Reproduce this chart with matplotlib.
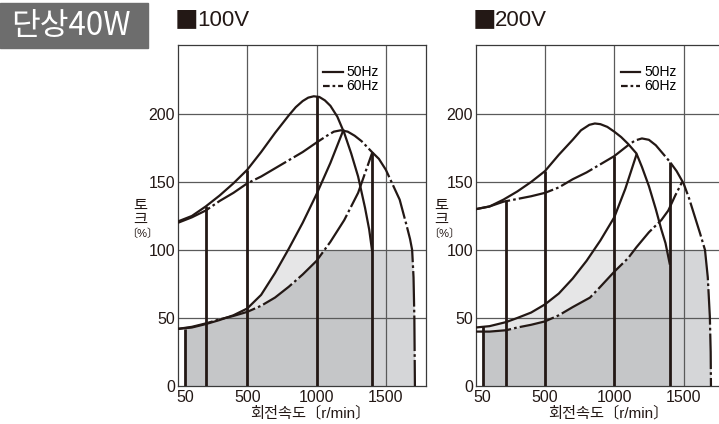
import matplotlib
matplotlib.use('Agg')
import matplotlib.pyplot as plt
from matplotlib.patches import Rectangle
from matplotlib.lines import Line2D

plt.rcParams['font.family'] = ['Liberation Sans', 'Noto Sans CJK KR']

# ---- 100V (speed r/min, torque %) ----
v100_max50_x = [0, 100, 200, 300, 400, 500, 600, 700, 800, 850, 900, 940, 980, 1020, 1060, 1100, 1150, 1200,
                1250, 1300, 1350, 1380, 1400]
v100_max50_y = [121, 125, 132, 140, 149, 159, 172, 186, 199, 205, 209.5, 212, 213, 212.5, 210, 206, 198, 186,
                171, 154, 131, 115, 100]
v100_max60_x = [0, 100, 200, 300, 400, 500, 600, 700, 800, 900, 1000, 1075, 1125, 1175, 1225, 1275, 1325, 1400,
                1450, 1500, 1550, 1600, 1650, 1675, 1690, 1700, 1706, 1710]
v100_max60_y = [120, 124, 129, 136, 142, 149, 154, 160, 166, 172, 179, 184, 187, 188, 187, 184, 180, 172,
                167, 159, 148, 137, 118, 108, 100, 80, 50, 0]
v100_low50_x = [0, 100, 200, 300, 400, 500, 600, 700, 800, 900, 1000, 1100, 1193]
v100_low50_y = [42, 43, 45.5, 48.5, 52, 57, 67, 83, 101, 120, 141, 164, 188]
v100_low60_x = [0, 100, 200, 300, 400, 500, 600, 700, 800, 900, 1000, 1100, 1200, 1300, 1400]
v100_low60_y = [42, 43.5, 46, 49, 51.5, 54.5, 59, 65, 73, 82, 92, 106, 122, 142, 171]
v100_set_x = [50, 200, 500, 1000, 1400]
v100_set_top = [42, 132, 159, 213, 172]

# ---- 200V ----
v200_max50_x = [0, 100, 200, 300, 400, 500, 600, 700, 760, 820, 860, 900, 950, 1000, 1050, 1100, 1160, 1200,
                1250, 1300, 1340, 1370, 1400]
v200_max50_y = [130, 132, 137, 143, 150, 158, 170, 181, 188, 192, 193, 192.5, 190.5, 187, 183, 178, 171, 161,
                147, 130, 115, 105, 90]
v200_max60_x = [0, 100, 200, 300, 400, 500, 600, 700, 800, 900, 1000, 1100, 1150, 1200, 1250, 1300, 1400, 1450,
                1500, 1540, 1580, 1620, 1655, 1675, 1690, 1696, 1698]
v200_max60_y = [130, 132, 135.5, 137.5, 139.5, 142, 146, 152, 157, 163, 169, 177, 180.5, 182, 181, 177, 165, 158,
                149, 138, 125, 112, 100, 80, 51, 25, 0]
v200_low50_x = [0, 100, 220, 300, 400, 500, 600, 700, 800, 900, 1000, 1080, 1160]
v200_low50_y = [43, 44, 47, 50, 54, 60, 68, 79, 92, 107, 124, 145, 170]
v200_low60_x = [0, 100, 220, 300, 400, 500, 600, 700, 825, 900, 1000, 1100, 1160, 1250, 1340, 1390, 1440, 1490]
v200_low60_y = [40, 40, 41, 43, 45, 47.5, 52, 58, 65, 73, 84, 94, 102, 113, 122, 129, 140, 150]
v200_set_x = [50, 220, 500, 1000, 1400]
v200_set_top = [44, 137, 158, 169, 165]

xticks = [50, 500, 1000, 1500]
yticks = [0, 50, 100, 150, 200]
grid_x = [500, 1000, 1500]
grid_y = [50, 100, 150, 200]

ink = '#231815'
dashdot = (0, (16, 1.4, 1.2, 1.4))
c_dark = '#c5c6c8'
c_light = '#e6e6e7'
c_mid = '#d5d6d8'

fig = plt.figure(figsize=(7.19, 4.24), dpi=100)
W, H = 719, 424


def panel(left_px, volt, lab_dx, data):
    max50_x, max50_y, max60_x, max60_y, low50_x, low50_y, low60_x, low60_y, set_x, set_top = data
    ax = fig.add_axes([left_px / W, 38 / H, 248 / W, 341 / H])
    ax.set_xlim(0, 1790)
    ax.set_ylim(0, 250.7)

    # shaded regions
    rect_a = Rectangle((50, 0), 1350, 100, transform=ax.transData)
    rect_b = Rectangle((1400, 0), 400, 100, transform=ax.transData)
    f = ax.fill_between(low50_x, 0, low50_y, color=c_light, lw=0, zorder=1)
    f.set_clip_path(rect_a)
    f = ax.fill_between(low60_x, 0, low60_y, color=c_dark, lw=0, zorder=1.1)
    f.set_clip_path(rect_a)
    f = ax.fill_between(max60_x, 0, max60_y, color=c_mid, lw=0, zorder=1)
    f.set_clip_path(rect_b)

    for g in grid_x:
        ax.axvline(g, color='#5a5a5a', lw=0.9, zorder=2)
    for g in grid_y:
        ax.axhline(g, color='#5a5a5a', lw=0.9, zorder=2)

    ax.plot(max50_x, max50_y, color=ink, lw=1.6, zorder=3)
    ax.plot(max60_x, max60_y, color=ink, lw=1.6, ls=dashdot, zorder=3)
    ax.plot(low50_x, low50_y, color=ink, lw=1.6, zorder=3)
    ax.plot(low60_x, low60_y, color=ink, lw=1.6, ls=dashdot, zorder=3)
    ax.vlines(set_x, 0, set_top, color=ink, lw=2.0, zorder=3)

    for s in ax.spines.values():
        s.set_color('#3a3a3a')
        s.set_linewidth(0.9)
    ax.set_xticks(xticks)
    ax.set_xticklabels([str(t) for t in xticks])
    ax.set_yticks(yticks)
    ax.tick_params(length=0, labelsize=11.5, colors='#231815')
    ax.tick_params(axis='y', pad=2)
    ax.tick_params(axis='x', pad=3)

    h = [Line2D([], [], color=ink, lw=1.6),
         Line2D([], [], color=ink, lw=1.6, ls=(0, (3, 1.3, 1.2, 1.3)))]
    ax.legend(h, ['50Hz', '60Hz'], loc='upper left', bbox_to_anchor=(0.585, 0.94),
              frameon=False, fontsize=10, handlelength=1.4, handletextpad=0.3,
              labelspacing=0.0, borderpad=0, borderaxespad=0)

    ax.text(lab_dx, 0.528, '토', transform=ax.transAxes, ha='center', va='center',
            fontsize=11, color=ink)
    ax.text(lab_dx, 0.487, '크', transform=ax.transAxes, ha='center', va='center',
            fontsize=11, color=ink)
    ax.text(lab_dx + 0.008, 0.447, '〔%〕', transform=ax.transAxes, ha='center', va='center',
            fontsize=8, color=ink)
    ax.text(0.535, -0.079, '회전속도〔r/min〕', transform=ax.transAxes, ha='center', va='center',
            fontsize=11, color=ink)
    fig.text((left_px - 3.5) / W, 1 - 21 / H, '■', ha='left', va='center', fontsize=17, color=ink,
             family='Noto Sans CJK KR')
    fig.text((left_px + 19) / W, 1 - 21 / H, volt, ha='left', va='center', fontsize=16, color=ink)
    return ax


panel(178, '100V', -0.153,
      (v100_max50_x, v100_max50_y, v100_max60_x, v100_max60_y, v100_low50_x, v100_low50_y,
       v100_low60_x, v100_low60_y, v100_set_x, v100_set_top))
panel(475.7, '200V', -0.137,
      (v200_max50_x, v200_max50_y, v200_max60_x, v200_max60_y, v200_low50_x, v200_low50_y,
       v200_low60_x, v200_low60_y, v200_set_x, v200_set_top))

# badge
fig.patches.append(Rectangle((0, 1 - 48 / H), 148 / W, 45 / H, transform=fig.transFigure,
                             color='#6d6d6d', zorder=0))
fig.text(70.5 / W, 1 - 26 / H, '단상40W', ha='center', va='center', fontsize=22.5, color='white',
         family='Noto Sans CJK KR', fontweight='medium')

fig.savefig('out.png', dpi=100)
